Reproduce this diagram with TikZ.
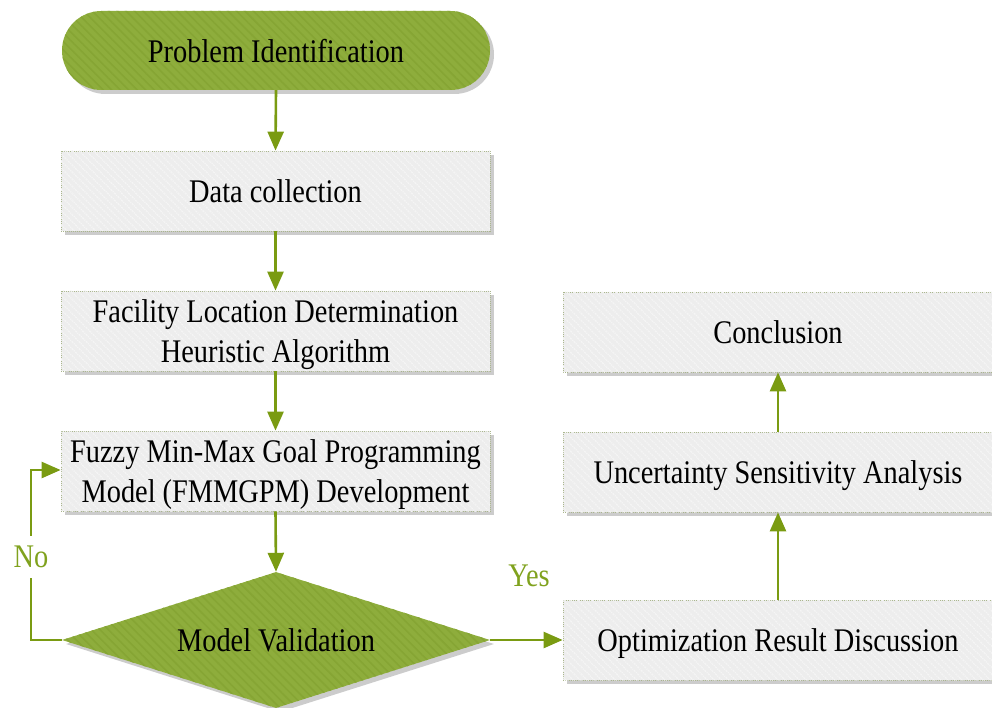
\documentclass[tikz,border=0pt]{standalone}
\usepackage{fontspec}
\setmainfont{Liberation Serif}[FakeStretch=0.86]
\usetikzlibrary{arrows.meta,shapes.geometric,shapes.misc,shadows,patterns.meta}

\definecolor{leaf}{RGB}{142,173,60}
\definecolor{leafstripe}{RGB}{134,165,52}
\definecolor{flow}{RGB}{122,155,18}
\definecolor{paper}{RGB}{237,237,237}
\definecolor{paperstripe}{RGB}{245,245,245}
\definecolor{rim}{RGB}{170,182,140}
\definecolor{tagtext}{RGB}{128,162,30}

\begin{document}
\begin{tikzpicture}[x=1pt,y=-1pt,
  every node/.style={font=\fontsize{33}{40}\selectfont, align=center, inner sep=0pt, text depth=0pt},
  castshadow/.style={drop shadow={shadow xshift=4pt,shadow yshift=-4pt,fill=black!20,opacity=1}},
  stepbox/.style={rectangle, castshadow, fill=paper, draw=rim, line width=0.8pt,
    dash pattern=on 1pt off 1pt, minimum width=429pt, minimum height=80pt,
    postaction={pattern={Lines[angle=-45,distance=5pt,line width=1.4pt]}, pattern color=paperstripe}},
  greenpart/.style={castshadow, fill=leaf, draw=none,
    postaction={pattern={Lines[angle=-45,distance=6pt,line width=1.6pt]}, pattern color=leafstripe}},
  flowarrow/.style={draw=flow, line width=2.6pt, -{Triangle[width=16pt,length=19pt]}},
  tag/.style={text=tagtext}
]
\useasboundingbox (0,0) rectangle (992,708);

% left column
\node[greenpart, rounded rectangle, minimum width=428pt, minimum height=79pt] (prob) at (276,50.5) {Problem Identification};
\node[stepbox] (data) at (275.5,191) {Data collection};
\node[stepbox] (fac) at (275.5,331) {Facility Location Determination\\Heuristic Algorithm};
\node[stepbox] (fuzzy) at (275.5,471) {Fuzzy Min-Max Goal Programming\\Model (FMMGPM) Development};
\node[greenpart, diamond, aspect=3.15, minimum width=428pt, minimum height=136pt] (valid) at (276,640) {Model Validation};

% right column
\node[stepbox, minimum width=430pt] (opt) at (778,640) {Optimization Result Discussion};
\node[stepbox, minimum width=430pt] (unc) at (778,472) {Uncertainty Sensitivity Analysis};
\node[stepbox, minimum width=430pt] (conc) at (778,332) {Conclusion};

% connectors
\draw[flowarrow] (prob.south) -- (data.north);
\draw[flowarrow] (data.south) -- (fac.north);
\draw[flowarrow] (fac.south) -- (fuzzy.north);
\draw[flowarrow] (fuzzy.south) -- (valid.north);
\draw[flowarrow] (valid.east) -- (opt.west);
\draw[flowarrow] (opt.north) -- (unc.south);
\draw[flowarrow] (unc.north) -- (conc.south);

\coordinate (loopdown) at (31,640);
\coordinate (loopup) at (31,470);
\draw[flowarrow] (valid.west) -- (loopdown) -- node[tag, fill=white, inner ysep=10pt, pos=0.488] (no) {No} (loopup) -- (fuzzy.west |- loopup);

\node[tag] (yes) at (529,576) {Yes};
\end{tikzpicture}
\end{document}
